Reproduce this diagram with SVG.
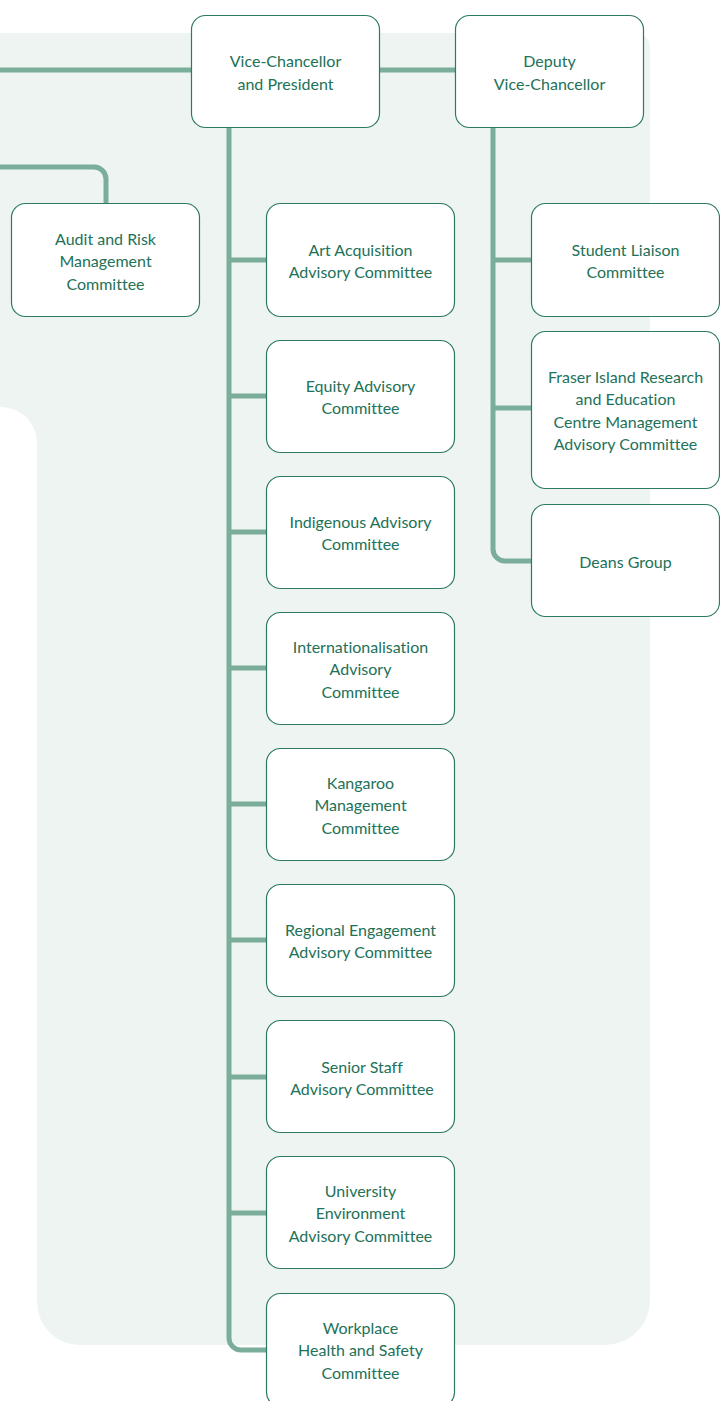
<svg xmlns="http://www.w3.org/2000/svg" width="720" height="1401" viewBox="0 0 720 1401">
<style>
.bx{fill:#ffffff;stroke:#2b7a61;stroke-width:1.2}
.t{font-family:Lato,"Open Sans","Liberation Sans",sans-serif;font-size:16px;font-variant-ligatures:none;fill:#227158;text-anchor:middle}
.c{fill:none;stroke:#7aae9a;stroke-width:5;stroke-linejoin:round}
</style>
<path d="M0,33 H636 A14,14 0 0 1 650,47 V1300 A45,45 0 0 1 605,1345 H80 A43,43 0 0 1 37,1302 V443 A36,36 0 0 0 1,407 H0 Z" fill="#eef4f1"/>
<g id="connectors">
<path class="c" d="M0,70 H191"/>
<path class="c" d="M380,70 H455"/>
<path class="c" d="M0,167 H94 A12,12 0 0 1 106,179 V203"/>
<path class="c" d="M229,128 V1338 A12,12 0 0 0 241,1350 H266"/>
<path class="c" d="M229,260 H266 M229,396 H266 M229,532 H266 M229,668 H266 M229,804 H266 M229,940 H266 M229,1077 H266 M229,1213 H266"/>
<path class="c" d="M493,128 V549 A12,12 0 0 0 505,561 H531"/>
<path class="c" d="M493,260 H531 M493,408 H531"/>
</g>
<g id="vc"><rect class="bx" x="191.5" y="15.5" width="188" height="112" rx="14"/><text class="t" x="285.5" y="66.5">Vice-Chancellor</text><text class="t" x="285.5" y="89.5">and President</text></g>
<g id="dvc"><rect class="bx" x="455.5" y="15.5" width="188" height="112" rx="14"/><text class="t" x="549.5" y="66.5">Deputy</text><text class="t" x="549.5" y="89.5">Vice-Chancellor</text></g>
<g id="audit"><rect class="bx" x="11.5" y="203.5" width="188" height="113" rx="14"/><text class="t" x="105.5" y="244.5">Audit and Risk</text><text class="t" x="105.5" y="267">Management</text><text class="t" x="105.5" y="289.5">Committee</text></g>
<g id="art"><rect class="bx" x="266.5" y="203.5" width="188" height="113" rx="14"/><text class="t" x="360.5" y="255.5">Art Acquisition</text><text class="t" x="360.5" y="278">Advisory Committee</text></g>
<g id="equity"><rect class="bx" x="266.5" y="340.5" width="188" height="112" rx="14"/><text class="t" x="360.5" y="391.5">Equity Advisory</text><text class="t" x="360.5" y="414">Committee</text></g>
<g id="indigenous"><rect class="bx" x="266.5" y="476.5" width="188" height="112" rx="14"/><text class="t" x="360.5" y="527.5">Indigenous Advisory</text><text class="t" x="360.5" y="550">Committee</text></g>
<g id="intl"><rect class="bx" x="266.5" y="612.5" width="188" height="112" rx="14"/><text class="t" x="360.5" y="652.5">Internationalisation</text><text class="t" x="360.5" y="675">Advisory</text><text class="t" x="360.5" y="697.5">Committee</text></g>
<g id="kangaroo"><rect class="bx" x="266.5" y="748.5" width="188" height="112" rx="14"/><text class="t" x="360.5" y="788.5">Kangaroo</text><text class="t" x="360.5" y="811">Management</text><text class="t" x="360.5" y="833.5">Committee</text></g>
<g id="regional"><rect class="bx" x="266.5" y="884.5" width="188" height="112" rx="14"/><text class="t" x="360.5" y="935.5">Regional Engagement</text><text class="t" x="360.5" y="958">Advisory Committee</text></g>
<g id="senior"><rect class="bx" x="266.5" y="1020.5" width="188" height="112" rx="14"/><text class="t" x="362" y="1072.5">Senior Staff</text><text class="t" x="362" y="1095">Advisory Committee</text></g>
<g id="environment"><rect class="bx" x="266.5" y="1156.5" width="188" height="112" rx="14"/><text class="t" x="360.5" y="1196.5">University</text><text class="t" x="360.5" y="1219">Environment</text><text class="t" x="360.5" y="1241.5">Advisory Committee</text></g>
<g id="whs"><rect class="bx" x="266.5" y="1293.5" width="188" height="113" rx="14"/><text class="t" x="360.5" y="1333.5">Workplace</text><text class="t" x="360.5" y="1356">Health and Safety</text><text class="t" x="360.5" y="1378.5">Committee</text></g>
<g id="student"><rect class="bx" x="531.5" y="203.5" width="188" height="113" rx="14"/><text class="t" x="625.5" y="255.5">Student Liaison</text><text class="t" x="625.5" y="278">Committee</text></g>
<g id="fraser"><rect class="bx" x="531.5" y="331.5" width="188" height="157" rx="14"/><text class="t" x="625.5" y="382.5">Fraser Island Research</text><text class="t" x="625.5" y="405">and Education</text><text class="t" x="625.5" y="427.5">Centre Management</text><text class="t" x="625.5" y="450">Advisory Committee</text></g>
<g id="deans"><rect class="bx" x="531.5" y="504.5" width="188" height="112" rx="14"/><text class="t" x="625.5" y="567.5">Deans Group</text></g>
</svg>
